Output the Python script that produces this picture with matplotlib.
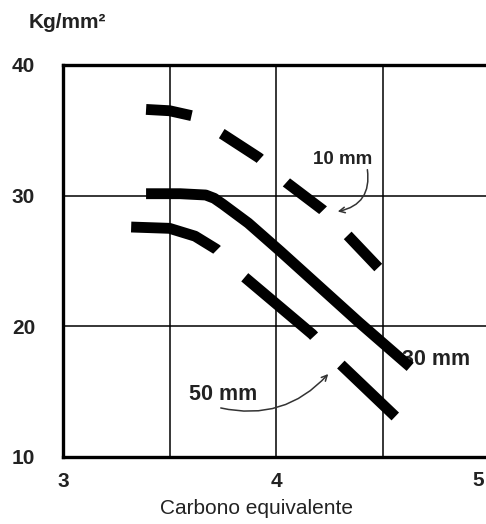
import matplotlib.pyplot as plt

# valores
x_10mm = [3.39, 3.50, 3.61, 3.75, 3.92, 4.05, 4.22, 4.34, 4.48]
y_10mm = [36.6, 36.5, 36.1, 34.7, 32.9, 31.0, 28.9, 26.9, 24.5]

x_30mm = [3.39, 3.55, 3.67, 3.71, 3.75, 3.87, 4.02, 4.39, 4.63]
y_30mm = [30.15, 30.15, 30.05, 29.8, 29.35, 27.9, 25.75, 20.3, 16.9]

x_50mm = [3.32, 3.50, 3.62, 3.72, 3.85, 4.17, 4.29, 4.56]
y_50mm = [27.6, 27.5, 26.9, 25.9, 23.8, 19.4, 17.3, 13.1]

x_ticks = [3, 4, 5]
y_ticks = [10, 20, 30, 40]
x_grid = [3.5, 4, 4.5]
y_grid = [20, 30]

plt.rcParams['font.family'] = ['Liberation Sans', 'DejaVu Sans']
txt = '#222222'

fig = plt.figure(figsize=(4.86, 5.24), dpi=100)
ax = fig.add_axes([63 / 486, 1 - 457 / 524, 426 / 486, 392 / 524])

ax.set_xlim(3, 5)
ax.set_ylim(10, 40)

for gx in x_grid:
    ax.axvline(gx, color='black', lw=1.1, zorder=1)
for gy in y_grid:
    ax.axhline(gy, color='black', lw=1.1, zorder=1)

lw = 7.8
ax.plot(x_10mm, y_10mm, color='black', lw=lw, dashes=(4.25, 3.25),
        dash_capstyle='butt', dash_joinstyle='round', zorder=3)
ax.plot(x_30mm, y_30mm, color='black', lw=lw, solid_capstyle='butt',
        solid_joinstyle='round', zorder=3)
ax.plot(x_50mm, y_50mm, color='black', lw=lw, dashes=(8.4, 3.6),
        dash_capstyle='butt', dash_joinstyle='round', zorder=3)

# rótulos das curvas
ax.text(4.315, 32.75, '10 mm', ha='center', va='center', fontsize=13.5,
        fontweight='bold', color=txt, zorder=2)
ax.text(4.592, 17.45, '30 mm', ha='left', va='center', fontsize=15.5,
        fontweight='bold', color=txt, zorder=2)
ax.text(3.751, 14.8, '50 mm', ha='center', va='center', fontsize=15.5,
        fontweight='bold', color=txt, zorder=2)

ax.annotate('', xy=(4.277, 28.75), xytext=(4.427, 32.2),
            arrowprops=dict(arrowstyle='->', connectionstyle='arc3,rad=-0.5',
                            lw=1.1, color='#333333'), zorder=4)
ax.annotate('', xy=(4.254, 16.51), xytext=(3.728, 13.8),
            arrowprops=dict(arrowstyle='->', connectionstyle='arc3,rad=0.3',
                            lw=1.1, color='#333333'), zorder=4)

ax.set_xticks(x_ticks)
ax.set_yticks(y_ticks)
# o "5" fica quase na borda: desenhado à parte, um pouco para a esquerda
ax.set_xticklabels([str(v) for v in x_ticks[:-1]] + [''], fontsize=15,
                   fontweight='bold', color=txt)
ax.set_yticklabels([str(v) for v in y_ticks], fontsize=15, fontweight='bold', color=txt)
ax.tick_params(axis='x', length=0, pad=11)
ax.tick_params(axis='y', length=0, pad=20)
fig.text(478 / 486, 1 - 481 / 524, str(x_ticks[-1]), ha='center', va='center',
         fontsize=15, fontweight='bold', color=txt)

for side in ['left', 'bottom', 'top']:
    ax.spines[side].set_linewidth(2.4)
ax.spines['right'].set_visible(False)

fig.text(257 / 486, 1 - 508 / 524, 'Carbono equivalente', ha='center', va='center',
         fontsize=15, color=txt)
fig.text(67 / 486, 1 - 22 / 524, 'Kg/mm²', ha='center', va='center',
         fontsize=15, fontweight='bold', color=txt)

fig.savefig('out.png', dpi=100)
